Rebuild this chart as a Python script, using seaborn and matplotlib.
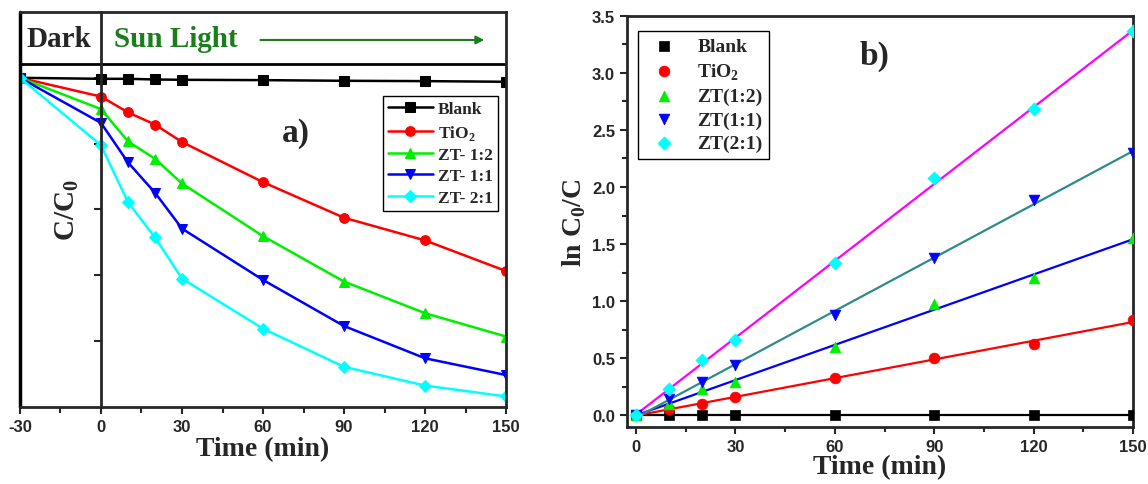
import matplotlib
matplotlib.use('Agg')
import matplotlib.pyplot as plt
import seaborn as sns

# ---- data: panel a (C/C0 vs time) ----
time_a = [-30, 0, 10, 20, 30, 60, 90, 120, 150]
blank_a = [1.0, 0.997, 0.997, 0.995, 0.994, 0.993, 0.991, 0.990, 0.988]
tio2_a = [1.0, 0.943, 0.895, 0.858, 0.805, 0.683, 0.575, 0.506, 0.413]
zt12_a = [1.0, 0.905, 0.807, 0.754, 0.679, 0.519, 0.381, 0.285, 0.214]
zt11_a = [1.0, 0.863, 0.743, 0.651, 0.542, 0.386, 0.246, 0.148, 0.097]
zt21_a = [1.0, 0.795, 0.622, 0.515, 0.390, 0.238, 0.122, 0.065, 0.032]
labels_a = ['Blank', 'TiO$_\\mathbf{2}$', 'ZT- 1:2', 'ZT- 1:1', 'ZT- 2:1']
xticks_a = [-30, 0, 30, 60, 90, 120, 150]

# ---- data: panel b (ln C0/C vs time) ----
time_b = [0, 10, 20, 30, 60, 90, 120, 150]
blank_b = [0, 0, 0, 0, 0, 0, 0, 0]
tio2_b = [0, 0.05, 0.10, 0.158, 0.327, 0.50, 0.625, 0.83]
zt12_b = [0, 0.093, 0.225, 0.29, 0.595, 0.97, 1.20, 1.55]
zt11_b = [0, 0.137, 0.29, 0.435, 0.875, 1.38, 1.89, 2.30]
zt21_b = [0, 0.225, 0.48, 0.657, 1.33, 2.08, 2.68, 3.37]
labels_b = ['Blank', 'TiO$_\\mathbf{2}$', 'ZT(1:2)', 'ZT(1:1)', 'ZT(2:1)']
xticks_b = [0, 30, 60, 90, 120, 150]
yticks_b = [0.0, 0.5, 1.0, 1.5, 2.0, 2.5, 3.0, 3.5]

colors = ['black', 'red', '#00ee00', 'blue', 'cyan']
fit_colors = ['black', 'red', 'blue', '#2e8b8b', 'magenta']
markers = ['s', 'o', '^', 'v', 'D']

sns.set_style('ticks')
plt.rcParams['font.family'] = ['Liberation Serif', 'DejaVu Serif']
plt.rcParams['font.weight'] = 'bold'
plt.rcParams['axes.unicode_minus'] = False
plt.rcParams['mathtext.fontset'] = 'custom'
plt.rcParams['mathtext.rm'] = 'Liberation Serif:bold'
plt.rcParams['mathtext.bf'] = 'Liberation Serif:bold'
plt.rcParams['axes.linewidth'] = 2
for k in ['xtick.major.width', 'ytick.major.width', 'xtick.minor.width', 'ytick.minor.width']:
    plt.rcParams[k] = 1.5

tick_font = dict(fontfamily='Liberation Sans', fontweight='bold', fontsize=12)

fig = plt.figure(figsize=(11.48, 4.85), dpi=100)
ax1 = fig.add_axes([0.0174, 0.1588, 0.4234, 0.8144])
ax2 = fig.add_axes([0.546, 0.1175, 0.441, 0.8475])

# ---------------- panel a ----------------
series_a = [blank_a, tio2_a, zt12_a, zt11_a, zt21_a]
for vals, c, m, lab in zip(series_a, colors, markers, labels_a):
    sns.lineplot(x=time_a, y=vals, color=c, marker=m, markersize=7 if m != 'D' else 6,
                 markeredgecolor=c, lw=1.8, label=lab, ax=ax1)

ax1.set_xlim(-30, 150)
ax1.set_ylim(0, 1.2)
ax1.spines['left'].set_position(('data', 0))
ax1.axvline(-30, color='k', lw=2.5, clip_on=False)
ax1.axhline(1.042, color='k', lw=2)
ax1.set_xticks(xticks_a, labels=[str(v) for v in xticks_a], **tick_font)
ax1.set_xticks(range(-15, 151, 30), minor=True)
ax1.set_yticks([0.2, 0.4, 0.6, 0.8, 1.0])
ax1.set_yticklabels([])
ax1.tick_params(axis='both', which='major', direction='out', length=5)
ax1.tick_params(axis='x', which='minor', direction='out', length=4)
ax1.set_xlabel('Time (min)', fontsize=20, fontweight='bold', labelpad=2)
ax1.set_ylabel('C/C$_\\mathbf{0}$', fontsize=21, fontweight='bold')
ax1.yaxis.set_label_coords(0.125, 0.5)

ax1.text(-15.5, 1.121, 'Dark', fontsize=21, fontweight='bold', ha='center', va='center')
ax1.text(4.8, 1.121, 'Sun Light', fontsize=21, fontweight='bold', color='#1b7d1b',
         ha='left', va='center')
ax1.annotate('', xy=(143, 1.115), xytext=(58, 1.115),
             arrowprops=dict(arrowstyle='-|>', color='#1b7d1b', lw=1.5, mutation_scale=12))
ax1.text(72, 0.835, 'a)', fontsize=24, fontweight='bold', ha='center', va='center')

leg = ax1.legend(loc='upper right', bbox_to_anchor=(0.984, 0.787), fontsize=12.5,
                 frameon=True, fancybox=False, edgecolor='black', framealpha=1,
                 handlelength=2.6, handletextpad=0.3, labelspacing=0.3, borderpad=0.3,
                 borderaxespad=0)
leg.get_frame().set_linewidth(1)

# ---------------- panel b ----------------
series_b = [blank_b, tio2_b, zt12_b, zt11_b, zt21_b]
for vals, c, fc, m, lab in zip(series_b, colors, fit_colors, markers, labels_b):
    sns.regplot(x=time_b, y=vals, scatter=False, ci=None, color=fc,
                line_kws=dict(lw=1.6), ax=ax2)
    sns.scatterplot(x=time_b, y=vals, color=c, marker=m, s=60 if m != 'D' else 45,
                    edgecolor=c, linewidth=0.5, label=lab, ax=ax2, zorder=3)

ax2.set_xlim(-2.8, 150)
ax2.set_ylim(-0.105, 3.5)
ax2.set_xticks(xticks_b, labels=[str(v) for v in xticks_b], **tick_font)
ax2.set_xticks(range(15, 151, 30), minor=True)
ax2.set_yticks(yticks_b, labels=['%.1f' % v for v in yticks_b], **tick_font)
ax2.set_yticks([0.25, 0.75, 1.25, 1.75, 2.25, 2.75, 3.25], minor=True)
ax2.tick_params(axis='both', which='major', direction='out', length=5)
ax2.tick_params(axis='both', which='minor', direction='out', length=3.5)
ax2.set_xlabel('Time (min)', fontsize=20, fontweight='bold', labelpad=0)
ax2.set_ylabel('ln C$_\\mathbf{0}$/C', fontsize=20, fontweight='bold', labelpad=3)
ax2.text(72, 3.15, 'b)', fontsize=24, fontweight='bold', ha='center', va='center')

leg2 = ax2.legend(loc='upper left', bbox_to_anchor=(0.022, 0.9635), fontsize=14,
                  frameon=True, fancybox=False, edgecolor='black', framealpha=1,
                  handlelength=2.0, handletextpad=0.7, labelspacing=0.3, borderpad=0.35,
                  borderaxespad=0)
leg2.get_frame().set_linewidth(1)

fig.savefig('out.png', dpi=100)
